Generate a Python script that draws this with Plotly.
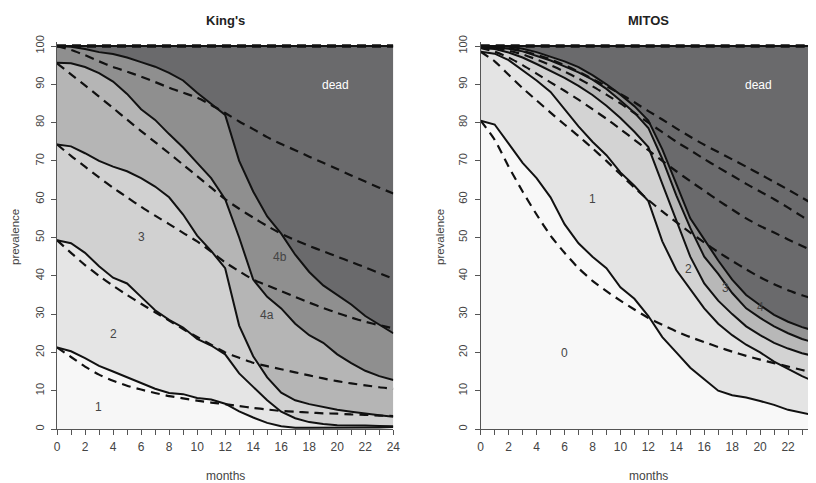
import plotly.graph_objects as go

# ---------------- data ----------------
months = list(range(25))
x_tick_vals = list(range(25))
x_tick_text = [str(m) if m % 2 == 0 else "" for m in range(25)]
y_tick_vals = list(range(0, 101, 10))
y_tick_text = [str(v) for v in y_tick_vals]

# King's: observed cumulative prevalence boundaries (solid)
kings_obs_1 = [21.3, 20.3, 18.5, 16.5, 15.0, 13.5, 12.0, 10.5, 9.4, 9.1, 8.1, 7.7, 6.6, 4.6, 3.0, 1.6, 0.7, 0.3, 0.3, 0.3, 0.3, 0.3, 0.3, 0.4, 0.5]
kings_obs_2 = [49.3, 48.5, 46.0, 42.5, 39.5, 38.0, 34.5, 31.0, 28.5, 26.5, 23.5, 21.8, 19.5, 14.5, 11.0, 7.5, 4.5, 2.8, 1.8, 1.3, 1.0, 1.0, 0.9, 0.8, 0.7]
kings_obs_3 = [74.3, 73.8, 72.0, 70.0, 68.5, 67.3, 65.5, 63.3, 60.5, 56.0, 50.5, 46.5, 42.0, 27.0, 19.0, 13.5, 9.5, 7.5, 6.5, 5.7, 5.0, 4.5, 4.0, 3.6, 3.2]
kings_obs_4 = [95.6, 95.5, 94.5, 92.9, 90.7, 87.5, 83.5, 80.7, 77.0, 73.5, 69.5, 65.5, 60.0, 50.0, 39.0, 34.5, 31.5, 27.5, 24.5, 22.5, 19.5, 17.2, 15.2, 13.8, 12.8]
kings_obs_5 = [100, 99.8, 99.2, 98.4, 97.9, 97.0, 95.8, 94.6, 93.0, 91.0, 87.8, 85.0, 82.0, 70.0, 62.0, 55.5, 51.0, 45.5, 41.0, 37.5, 35.0, 32.5, 29.5, 27.2, 25.0]
kings_top = [100] * 25

# King's: model (dashed)
kings_mod_1 = [21.3, 18.8, 16.3, 14.2, 12.6, 11.3, 10.3, 9.4, 8.6, 8.0, 7.4, 6.9, 6.5, 6.0, 5.5, 5.1, 4.7, 4.5, 4.3, 4.1, 4.0, 3.8, 3.7, 3.5, 3.4]
kings_mod_2 = [49.3, 46.0, 42.8, 40.0, 37.4, 35.0, 32.7, 30.5, 28.3, 26.1, 24.0, 22.0, 20.0, 18.6, 17.3, 16.4, 15.6, 14.8, 14.0, 13.2, 12.5, 11.9, 11.4, 10.9, 10.5]
kings_mod_3 = [74.3, 71.3, 68.5, 65.7, 63.0, 60.5, 58.0, 55.7, 53.5, 51.2, 49.0, 46.3, 43.5, 41.2, 39.0, 37.5, 36.0, 34.5, 33.0, 31.6, 30.3, 29.1, 28.0, 27.1, 26.3]
kings_mod_4 = [95.5, 92.6, 89.7, 86.8, 83.8, 80.8, 77.8, 74.9, 72.0, 69.0, 66.0, 63.0, 60.0, 57.5, 55.2, 53.0, 51.0, 49.3, 47.8, 46.4, 45.0, 43.6, 42.2, 40.7, 39.2]
kings_mod_5 = [100, 99.0, 97.6, 96.0, 94.5, 93.3, 92.0, 90.6, 89.1, 87.8, 86.5, 84.6, 82.5, 80.3, 78.3, 76.2, 74.4, 72.8, 71.1, 69.5, 67.9, 66.2, 64.6, 63.0, 61.5]

# MITOS: observed (solid)
mitos_obs_0 = [80.5, 79.5, 74.5, 69.5, 65.5, 60.5, 53.5, 48.5, 45.0, 42.0, 37.0, 34.0, 29.5, 24.0, 20.0, 16.0, 13.0, 10.0, 8.8, 8.2, 7.3, 6.3, 5.0, 4.3, 3.5]
mitos_obs_1 = [98.5, 98.0, 96.3, 93.7, 91.0, 88.0, 83.5, 79.0, 75.0, 71.5, 67.0, 63.5, 59.5, 49.0, 41.5, 36.5, 31.5, 27.5, 24.5, 22.0, 20.0, 17.6, 15.6, 13.8, 12.2]
mitos_obs_2 = [99.5, 99.2, 98.3, 97.0, 95.3, 93.6, 91.7, 89.6, 87.2, 84.4, 81.2, 77.6, 73.6, 64.0, 54.5, 45.0, 38.0, 33.5, 30.0, 26.8, 24.5, 22.5, 21.0, 19.8, 18.9]
mitos_obs_3 = [100, 99.7, 99.3, 98.6, 97.5, 96.2, 94.7, 93.1, 91.2, 88.8, 85.8, 82.6, 78.6, 70.5, 61.0, 52.5, 45.0, 40.5, 35.5, 31.5, 29.0, 26.8, 25.0, 23.5, 22.4]
mitos_obs_4 = [100, 100, 99.8, 99.3, 98.4, 97.3, 96.0, 94.5, 92.4, 90.0, 87.3, 84.3, 80.5, 73.0, 64.0, 55.0, 49.5, 44.0, 39.0, 35.0, 32.3, 29.8, 28.0, 26.6, 25.5]
mitos_top = [100] * 25

# MITOS: model (dashed)
mitos_mod_0 = [80.5, 75.5, 68.5, 62.0, 56.0, 50.5, 46.0, 42.0, 38.7, 36.0, 33.5, 31.2, 29.0, 27.2, 25.5, 24.0, 22.7, 21.4, 20.2, 19.1, 18.1, 17.2, 16.3, 15.4, 14.5]
mitos_mod_1 = [98.5, 96.0, 92.5, 89.0, 85.8, 82.6, 79.5, 76.5, 73.3, 70.0, 66.5, 63.0, 59.8, 56.8, 54.0, 51.3, 48.7, 46.2, 43.9, 41.7, 39.6, 37.8, 36.2, 34.9, 33.8]
mitos_mod_2 = [99.5, 98.5, 97.0, 95.0, 92.8, 90.5, 88.3, 86.0, 83.5, 81.0, 78.3, 75.5, 72.8, 70.0, 67.3, 64.7, 62.2, 59.7, 57.3, 55.0, 53.0, 51.3, 49.5, 47.8, 46.0]
mitos_mod_3 = [100, 99.5, 98.8, 97.8, 96.5, 95.0, 93.3, 91.5, 89.5, 87.3, 85.0, 82.5, 80.0, 77.5, 75.0, 72.8, 70.5, 68.3, 66.2, 64.0, 62.0, 60.0, 57.8, 55.5, 53.3]
mitos_mod_4 = [100, 99.8, 99.4, 98.7, 97.7, 96.5, 95.0, 93.3, 91.4, 89.5, 87.5, 85.3, 83.0, 80.8, 78.5, 76.3, 74.2, 72.3, 70.4, 68.5, 66.5, 64.5, 62.5, 60.4, 58.3]

kings_labels = ["1", "2", "3", "4a", "4b", "dead"]
kings_label_x = [2.95, 4.0, 6.05, 15.0, 15.9, 19.9]
kings_label_y = [5.8, 24.8, 50.2, 29.8, 45.0, 89.8]
mitos_labels = ["0", "1", "2", "3", "4", "dead"]
mitos_label_x = [6.0, 8.0, 14.9, 17.5, 20.0, 19.9]
mitos_label_y = [19.9, 60.0, 41.7, 36.9, 31.9, 89.8]

kings_fills = ["#f7f7f7", "#e5e5e5", "#d1d1d1", "#b5b5b5", "#8f8f8f", "#6a6a6c"]
mitos_fills = ["#f8f8f8", "#e4e4e4", "#d3d3d3", "#b8b8b8", "#939393", "#6a6a6c"]

FONT = "Liberation Sans, Arial, Helvetica, sans-serif"

fig = go.Figure()


def add_panel(xa, ya, obs, mod, fills, labels, lx, ly):
    bounds = obs + [[100] * len(months)]
    for i, yv in enumerate(bounds):
        fig.add_trace(go.Scatter(
            x=months, y=yv, xaxis=xa, yaxis=ya, mode="lines",
            line=dict(width=0.5, color=fills[i]),
            fill="tozeroy" if i == 0 else "tonexty", fillcolor=fills[i],
            hoverinfo="skip", showlegend=False))
    for yv in mod:
        fig.add_trace(go.Scatter(
            x=months, y=yv, xaxis=xa, yaxis=ya, mode="lines",
            line=dict(width=2.2, color="#111111", dash="9px,6px", shape="spline", smoothing=0.6),
            hoverinfo="skip", showlegend=False))
    for yv in obs:
        fig.add_trace(go.Scatter(
            x=months, y=yv, xaxis=xa, yaxis=ya, mode="lines",
            line=dict(width=2, color="#111111"),
            hoverinfo="skip", showlegend=False))
    # top line at 100 (observed + model)
    fig.add_trace(go.Scatter(x=months, y=[100] * len(months), xaxis=xa, yaxis=ya, mode="lines",
                             line=dict(width=2, color="#111111"), hoverinfo="skip", showlegend=False))
    fig.add_trace(go.Scatter(x=months, y=[100] * len(months), xaxis=xa, yaxis=ya, mode="lines",
                             line=dict(width=3.5, color="#111111", dash="9px,6px"),
                             hoverinfo="skip", showlegend=False))
    for t, x, y in zip(labels, lx, ly):
        fig.add_annotation(x=x, y=y, xref=xa, yref=ya, text=t, showarrow=False,
                           xanchor="center", yanchor="middle",
                           font=dict(family=FONT, size=12,
                                     color="#ffffff" if t == "dead" else "#444444"))


add_panel("x", "y", [kings_obs_1, kings_obs_2, kings_obs_3, kings_obs_4, kings_obs_5],
          [kings_mod_1, kings_mod_2, kings_mod_3, kings_mod_4, kings_mod_5],
          kings_fills, kings_labels, kings_label_x, kings_label_y)
add_panel("x2", "y2", [mitos_obs_0, mitos_obs_1, mitos_obs_2, mitos_obs_3, mitos_obs_4],
          [mitos_mod_0, mitos_mod_1, mitos_mod_2, mitos_mod_3, mitos_mod_4],
          mitos_fills, mitos_labels, mitos_label_x, mitos_label_y)

# The page body has an 8px margin: the figure is drawn at (8, 8) in the window,
# so figure coordinates are window coordinates minus 8.
OFF = 8
W, H = 816 - OFF, 483 - OFF


def fx(px):
    return (px - OFF) / W


def fy(py):
    return (H - (py - OFF)) / H


y0_px, y100_px = 429, 46
unit = (y0_px - y100_px) / 100.0
ytop = 101.0
ydom = [fy(y0_px), fy(y0_px - ytop * unit)]

xaxis_style = dict(range=[0, 24], showgrid=False, zeroline=False, showline=True, automargin=False,
                   linecolor="#555555", linewidth=1, ticks="outside", ticklen=5,
                   tickcolor="#555555", tickwidth=1, tickvals=x_tick_vals, ticktext=x_tick_text,
                   tickfont=dict(family=FONT, size=12, color="#444444"),
                   ticklabelstandoff=2, ticklabeloverflow="allow", fixedrange=True)
yaxis_style = dict(range=[0, ytop], showgrid=False, zeroline=False, showline=True, automargin=False,
                   linecolor="#555555", linewidth=1, ticks="outside", ticklen=5,
                   tickcolor="#555555", tickwidth=1, tickvals=y_tick_vals, ticktext=y_tick_text,
                   tickangle=-90, tickfont=dict(family=FONT, size=11, color="#444444"),
                   ticklabelstandoff=3, fixedrange=True)

fig.update_layout(
    template="none",
    width=W, height=H, margin=dict(l=0, r=0, t=0, b=0, pad=0, autoexpand=False),
    paper_bgcolor="white", plot_bgcolor="white", showlegend=False,
    xaxis=dict(domain=[fx(57), fx(393.3)], anchor="y", **xaxis_style),
    yaxis=dict(domain=ydom, anchor="x", **yaxis_style),
    xaxis2=dict(domain=[fx(480.7), 1.0], anchor="y2", **xaxis_style),
    yaxis2=dict(domain=ydom, anchor="x2", **yaxis_style),
)

# titles and axis titles
for cx, title in [((57 + 393.3) / 2, "King's"), ((480.7 + 816.7) / 2, "MITOS")]:
    fig.add_annotation(x=fx(cx), y=fy(20), xref="paper", yref="paper", text="<b>" + title + "</b>",
                       showarrow=False, xanchor="center", yanchor="middle",
                       font=dict(family=FONT, size=13, color="#222222"))
    fig.add_annotation(x=fx(cx), y=fy(476), xref="paper", yref="paper", text="months",
                       showarrow=False, xanchor="center", yanchor="middle",
                       font=dict(family=FONT, size=12, color="#444444"))
for px in [15, 440]:
    fig.add_annotation(x=fx(px), y=fy(237), xref="paper", yref="paper", text="prevalence",
                       textangle=-90, showarrow=False, xanchor="center", yanchor="middle",
                       font=dict(family=FONT, size=11.5, color="#444444"))

fig.write_html("out.html")
